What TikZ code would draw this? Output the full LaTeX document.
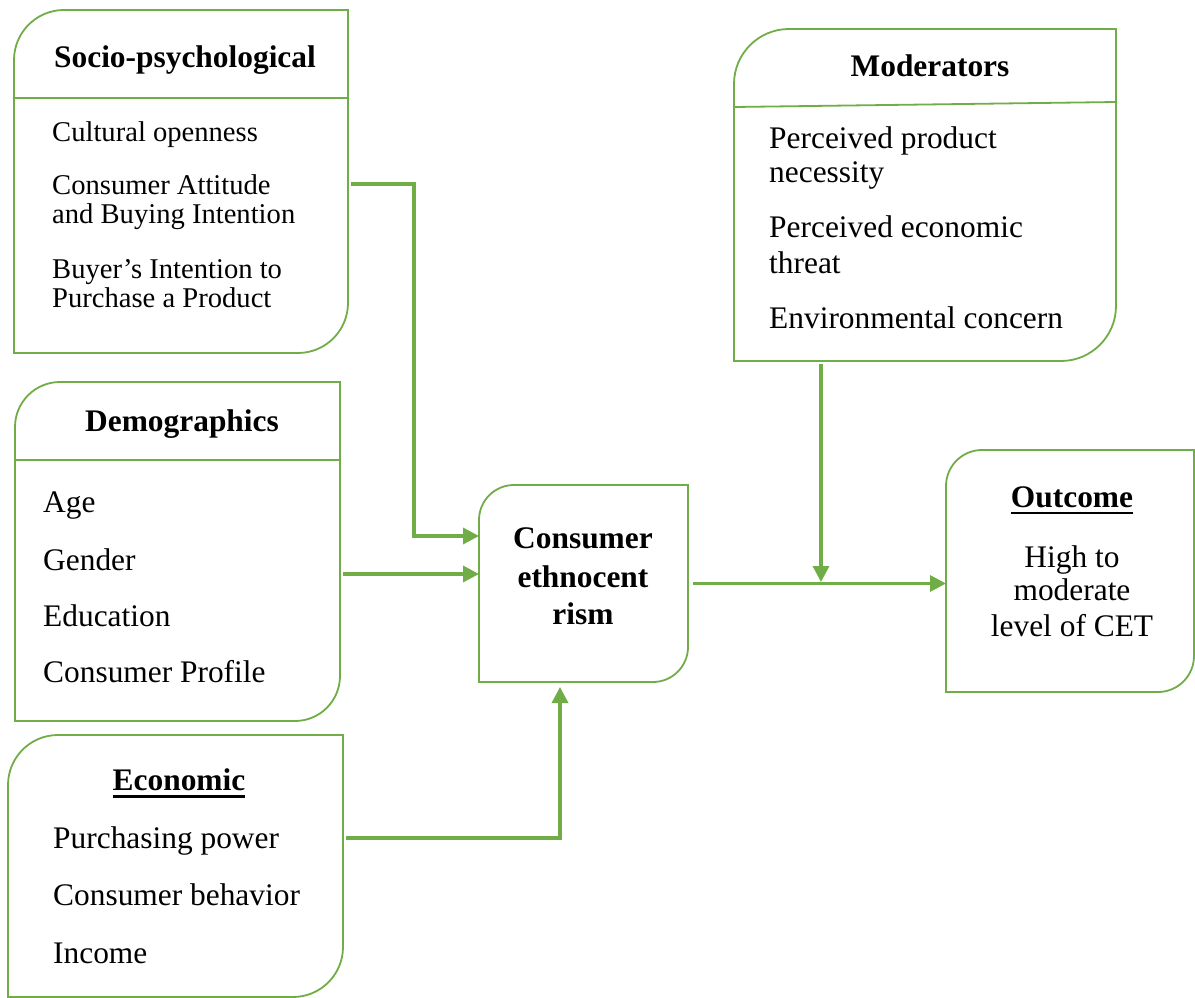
\documentclass[tikz,border=0pt]{standalone}
\usepackage{fontspec}
\setmainfont{Liberation Serif}
\usetikzlibrary{arrows.meta}
\definecolor{grn}{HTML}{70AD47}
\tikzset{
  frame/.style={draw=none, inner sep=0pt, outer sep=0pt, anchor=north west},
  boxline/.style={draw=grn, line width=1.8pt},
  arr/.style={draw=grn, line width=3.4pt, -{Triangle[length=16pt,width=16pt]}},
  item/.style={inner sep=0pt, anchor=base west, font=\fontsize{31.4}{36}\selectfont},
  itemS/.style={inner sep=0pt, anchor=base west, font=\fontsize{28.6}{33}\selectfont},
  ttl/.style={inner sep=0pt, anchor=base, font=\fontsize{31.4}{36}\selectfont\bfseries},
  ctr/.style={inner sep=0pt, anchor=base, font=\fontsize{31.4}{36}\selectfont},
  ulline/.style={draw=black, line width=2.4pt},
}
\newcommand\cornerbox[2]{%
  \draw[boxline] (#1.south west) -- ([yshift=-#2]#1.north west)
    arc[start angle=180,end angle=90,radius=#2] -- (#1.north east)
    -- ([yshift=#2]#1.south east)
    arc[start angle=0,end angle=-90,radius=#2] -- cycle;}
\begin{document}
\begin{tikzpicture}[x=1pt,y=1pt]
\useasboundingbox (0,0) rectangle (1195,-998);
% frames
\node[frame, minimum width=334pt, minimum height=343pt] (soc) at (14,-10) {};
\node[frame, minimum width=325pt, minimum height=339pt] (demo) at (15,-382) {};
\node[frame, minimum width=335pt, minimum height=262pt] (econ) at (8,-735) {};
\node[frame, minimum width=209pt, minimum height=197pt] (cet) at (479,-485) {};
\node[frame, minimum width=382pt, minimum height=332pt] (mod) at (734,-29) {};
\node[frame, minimum width=248pt, minimum height=242pt] (out) at (946,-450) {};
\cornerbox{soc}{50pt}
\cornerbox{demo}{45pt}
\cornerbox{econ}{50pt}
\cornerbox{cet}{35pt}
\cornerbox{mod}{55pt}
\cornerbox{out}{36pt}
% dividers
\draw[boxline] ([yshift=-88pt]soc.north west) -- ([yshift=-88pt]soc.north east);
\draw[boxline] ([yshift=-78pt]demo.north west) -- ([yshift=-78pt]demo.north east);
\draw[boxline] ([yshift=-78pt]mod.north west) -- ([yshift=-73pt]mod.north east);
% socio-psychological
\node[ttl] (socT) at (185,-67) {Socio-psychological};
\node[itemS] (soc1) at (52,-142) {Cultural openness};
\node[itemS] (soc2a) at (52,-194) {Consumer Attitude};
\node[itemS] (soc2b) at (52,-223) {and Buying Intention};
\node[itemS] (soc3a) at (52,-278) {Buyer’s Intention to};
\node[itemS] (soc3b) at (52,-307) {Purchase a Product};
% demographics
\node[ttl] (demoT) at (182,-431) {Demographics};
\node[item] (demo1) at (43,-512) {Age};
\node[item] (demo2) at (43,-570) {Gender};
\node[item] (demo3) at (43,-626) {Education};
\node[item] (demo4) at (43,-682) {Consumer Profile};
% economic
\node[ttl] (econT) at (179,-790) {Economic};
\draw[ulline] ([yshift=-6.3pt]econT.base west) -- ([yshift=-6.3pt]econT.base east);
\node[item] (econ1) at (53,-848) {Purchasing power};
\node[item] (econ2) at (53,-905) {Consumer behavior};
\node[item] (econ3) at (53,-963) {Income};
% CET
\node[ttl] (cet1) at (583,-548) {Consumer};
\node[ttl] (cet2) at (583,-587) {ethnocent};
\node[ttl] (cet3) at (583,-624) {rism};
% moderators
\node[ttl] (modT) at (930,-77) {Moderators};
\node[item] (mod1a) at (769,-148) {Perceived product};
\node[item] (mod1b) at (769,-182) {necessity};
\node[item] (mod2a) at (769,-237) {Perceived economic};
\node[item] (mod2b) at (769,-273) {threat};
\node[item] (mod3) at (769,-328) {Environmental concern};
% outcome
\node[ttl] (outT) at (1072,-507) {Outcome};
\draw[ulline] ([yshift=-6pt]outT.base west) -- ([yshift=-6pt]outT.base east);
\node[ctr] (out1) at (1072,-567) {High to};
\node[ctr] (out2) at (1072,-600) {moderate};
\node[ctr] (out3) at (1072,-636) {level of CET};
% connectors
\draw[arr] ([xshift=3pt,yshift=-2.5pt]soc.east) -- ++(63,0) |- ([yshift=47.5pt]cet.west);
\draw[arr] ([xshift=3pt,yshift=-22.5pt]demo.east) -- ([yshift=9.5pt]cet.west);
\draw[arr] ([xshift=3pt,yshift=28pt]econ.east) -| ([xshift=-23.5pt,yshift=-5pt]cet.south);
\draw[arr] ([xshift=5pt]cet.east) -- (out.west |- cet.east);
\coordinate (mj) at (821,-582);
\draw[arr] ([xshift=-104pt,yshift=-3pt]mod.south) -- (mj);
\end{tikzpicture}
\end{document}
